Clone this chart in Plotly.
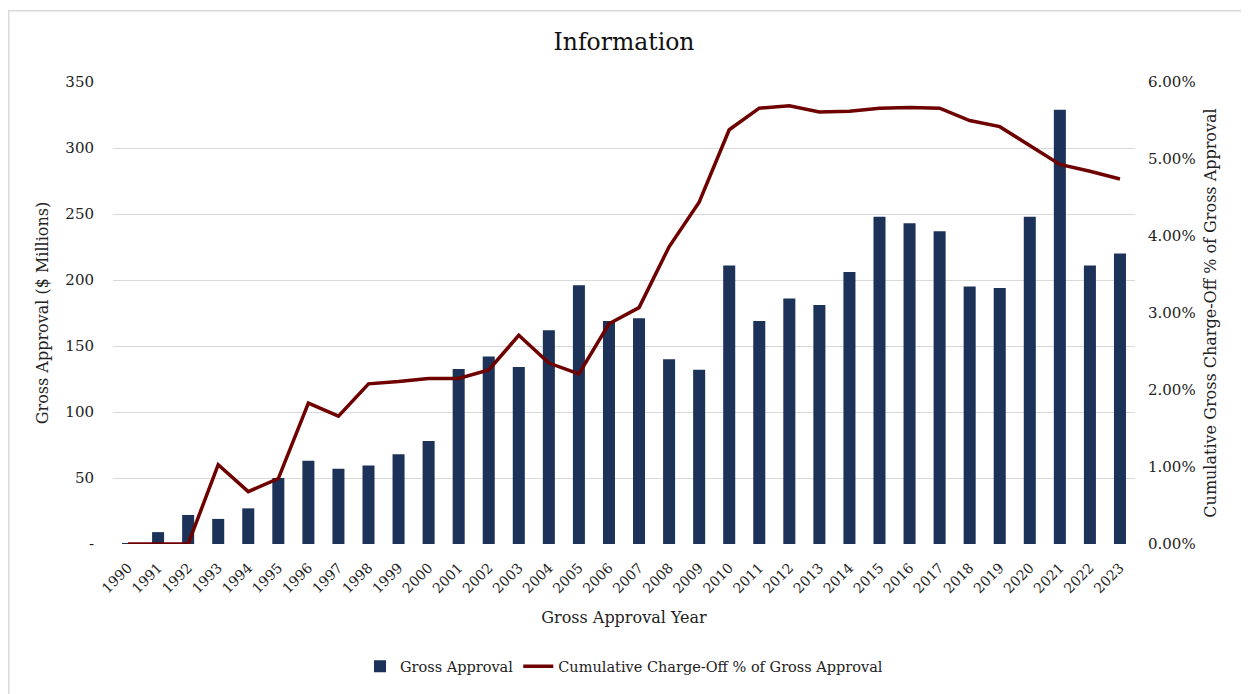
import plotly.graph_objects as go

# Data
years = [str(y) for y in range(1990, 2024)]

gross_approval = [0.5, 9, 22, 19, 27, 50, 63, 57, 59.5, 68, 78,
                  132.5, 142, 134, 162, 196, 169, 171, 140, 132, 211,
                  169, 186, 181, 206, 248, 243, 237, 195, 194, 248,
                  329, 211, 220]

chargeoff_pct = [0.0, 0.0, 0.0, 1.03, 0.68, 0.85, 1.83, 1.66, 2.08, 2.11, 2.15,
                 2.15, 2.26, 2.71, 2.35, 2.21, 2.86, 3.07, 3.86, 4.44, 5.38,
                 5.66, 5.69, 5.61, 5.62, 5.66, 5.67, 5.66, 5.50, 5.42, 5.17,
                 4.93, 4.84, 4.74]

left_ticks = [0, 50, 100, 150, 200, 250, 300, 350]
left_labels = ["-", "50", "100", "150", "200", "250", "300", "350"]
right_ticks = [0, 1, 2, 3, 4, 5, 6]
right_labels = [f"{v:.2f}%" for v in right_ticks]

FONT = "DejaVu Serif, serif"
NAVY = "#1c3258"
MAROON = "#6f0000"

# page body has an 8px margin, so the figure is a bit smaller than the window
W, H = 1241, 686

fig = go.Figure()
fig.add_trace(go.Bar(x=years, y=gross_approval, name="Gross Approval",
                     marker=dict(color=NAVY, line=dict(width=0))))
fig.add_trace(go.Scatter(x=years, y=chargeoff_pct, yaxis="y2", mode="lines",
                         name="Cumulative Charge-Off % of Gross Approval",
                         line=dict(color=MAROON, width=3.5)))

fig.update_layout(
    width=W, height=H,
    margin=dict(l=105, r=114, t=74, b=145),
    paper_bgcolor="white", plot_bgcolor="white",
    font=dict(family=FONT, size=15, color="#222"),
    title=dict(text="Information", x=0.5, xanchor="center", xref="paper",
               y=1 - 34 / H, yanchor="middle",
               font=dict(family=FONT, size=23.5, color="#111")),
    bargap=0.6,
    xaxis=dict(tickangle=-45, showgrid=False, showline=False, ticks="",
               automargin=False, ticklabelstandoff=12, tickfont=dict(size=14),
               title=dict(text="Gross Approval Year", font=dict(size=16), standoff=16)),
    yaxis=dict(range=[0, 350], tickvals=left_ticks, ticktext=left_labels,
               showgrid=True, gridcolor="#d9d9d9", gridwidth=1, zeroline=False,
               automargin=False, ticklabelstandoff=18, tickfont=dict(size=15),
               title=dict(text="Gross Approval ($ Millions)", font=dict(size=16), standoff=12)),
    yaxis2=dict(range=[0, 6], tickvals=right_ticks, ticktext=right_labels,
                overlaying="y", side="right", showgrid=False, zeroline=False,
                automargin=False, ticklabelstandoff=12, tickfont=dict(size=15),
                title=dict(text="Cumulative Gross Charge-Off % of Gross Approval",
                           font=dict(size=16), standoff=10)),
    legend=dict(orientation="h", x=0.5, xanchor="center", y=-0.265, yanchor="middle",
                font=dict(size=14.5), traceorder="normal"),
    shapes=[dict(type="rect", xref="paper", yref="paper",
                 x0=-0.102, x1=1.3, y0=-0.6, y1=1.154,
                 line=dict(color="#d9d9d9", width=1.5), fillcolor="rgba(0,0,0,0)",
                 layer="below")],
)

fig.write_html("out.html")
